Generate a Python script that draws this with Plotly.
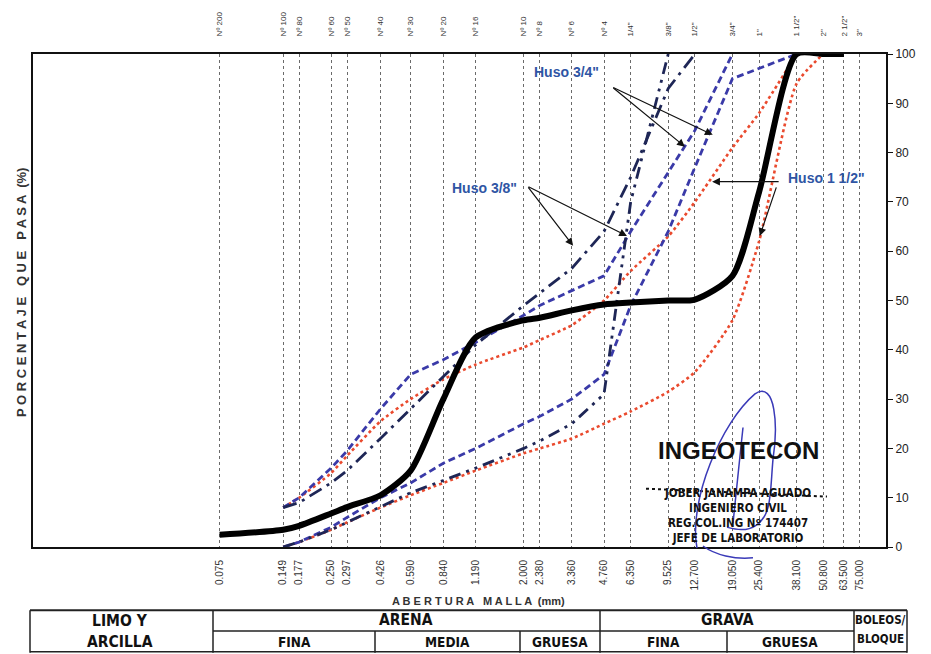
import math
import plotly.graph_objects as go

# ---------------- data ----------------
sieve_mm = [0.075, 0.149, 0.177, 0.250, 0.297, 0.426, 0.590, 0.840, 1.190, 2.000, 2.380,
            3.360, 4.760, 6.350, 9.525, 12.700, 19.050, 25.400, 38.100, 50.800, 63.500, 75.000]
sieve_names = ["Nº 200", "Nº 100", "Nº 80", "Nº 60", "Nº 50", "Nº 40", "Nº 30", "Nº 20", "Nº 16",
               "Nº 10", "Nº 8", "Nº 6", "Nº 4", '1/4"', '3/8"', '1/2"', '3/4"', '1"', '1 1/2"',
               '2"', '2 1/2"', '3"']
mm_labels = ["0.075", "0.149", "0.177", "0.250", "0.297", "0.426", "0.590", "0.840", "1.190",
             "2.000", "2.380", "3.360", "4.760", "6.350", "9.525", "12.700", "19.050", "25.400",
             "38.100", "50.800", "63.500", "75.000"]

# sample curve (thick black)
muestra_mm = [0.075, 0.149, 0.177, 0.250, 0.297, 0.426, 0.590, 0.840, 1.190, 2.000, 2.380,
              3.360, 4.760, 6.350, 9.525, 12.700, 19.050, 25.400, 38.100, 50.800, 63.500]
muestra_pct = [2.5, 3.5, 4.3, 6.8, 8.1, 10.5, 15.5, 30.0, 42.5, 46.0, 46.5,
               48.0, 49.2, 49.6, 50.0, 50.2, 55.0, 72.0, 100, 100, 100]

# Huso 3/8" (navy dash-dot)
h38_sup_mm = [0.149, 0.177, 0.250, 0.297, 0.426, 0.590, 0.840, 1.190, 2.000, 2.380, 3.360, 4.760, 6.350, 9.525, 12.700]
h38_sup_pct = [8, 9, 13, 15.5, 22, 28, 34.5, 41, 49, 51.5, 56.5, 64, 75, 93, 100]
h38_inf_mm = [0.149, 0.177, 0.250, 0.297, 0.426, 0.590, 0.840, 1.190, 2.000, 2.380, 3.360, 4.760, 6.350, 9.525]
h38_inf_pct = [0, 1, 3.5, 5, 8, 11, 13.5, 16, 20, 21.5, 25, 31, 70, 100]

# Huso 3/4" (blue dashed)
h34_sup_mm = [0.149, 0.177, 0.250, 0.297, 0.426, 0.590, 0.840, 1.190, 2.000, 2.380, 3.360, 4.760, 6.350, 9.525, 12.700, 19.050]
h34_sup_pct = [8, 10, 16, 19.5, 28, 35, 38, 41.5, 47, 49, 52, 55, 64, 76, 84.5, 100]
h34_inf_mm = [0.149, 0.177, 0.250, 0.297, 0.426, 0.590, 0.840, 1.190, 2.000, 2.380, 3.360, 4.760, 6.350, 9.525, 12.700, 19.050, 38.100]
h34_inf_pct = [0, 1, 4, 6, 10, 13, 17, 20, 25, 26.5, 30, 35, 49, 64, 77, 95, 100]

# Huso 1 1/2" (red dotted)
h112_sup_mm = [0.149, 0.177, 0.250, 0.297, 0.426, 0.590, 0.840, 1.190, 2.000, 2.380, 3.360, 4.760, 6.350, 9.525, 12.700, 19.050, 25.400, 38.100]
h112_sup_pct = [8, 10, 15, 18.5, 25.5, 30, 34, 37, 40.5, 42, 45, 50, 56, 63, 70, 81, 88, 100]
h112_inf_mm = [0.149, 0.177, 0.250, 0.297, 0.426, 0.590, 0.840, 1.190, 2.000, 2.380, 3.360, 4.760, 6.350, 9.525, 12.700, 19.050, 25.400, 38.100, 50.800]
h112_inf_pct = [0, 1, 3.5, 5, 8, 10.5, 13, 15.5, 19, 20, 22, 25, 27.5, 31.5, 35.5, 46, 62, 94, 100]

# arrow tips (mm, %) for the Huso labels
arrow_tip_mm = [15.4, 11.4, 3.41, 6.1, 15.3, 25.6]
arrow_tip_pct = [83.6, 81.2, 61.1, 63.1, 74.1, 63.1]
arrow_dx = [-101, -73, -46, -100, 68, 17]
arrow_dy = [-48, -60, -60, -50, 0, -50]

# ---------------- layout helpers ----------------
W, H = 931, 654
L, R, T, B = 33, 45, 48, 107
PW, PH = W - L - R, H - T - B


def px(x, y):
    return (x - L) / PW, (H - B - y) / PH


NAVY = "#1e2656"
BLUE = "#3a3aa8"
RED = "#ea4a2e"
LABEL = "#2f55a4"
NARROW = "DejaVu Sans Condensed, Liberation Sans Narrow, Liberation Sans"

fig = go.Figure()

fig.add_trace(go.Scatter(x=h112_sup_mm, y=h112_sup_pct, mode="lines",
                         line=dict(color=RED, width=2.6, dash="dot", shape="spline", smoothing=0.6)))
fig.add_trace(go.Scatter(x=h112_inf_mm, y=h112_inf_pct, mode="lines",
                         line=dict(color=RED, width=2.6, dash="dot", shape="spline", smoothing=0.6)))
fig.add_trace(go.Scatter(x=h34_sup_mm, y=h34_sup_pct, mode="lines",
                         line=dict(color=BLUE, width=2.8, dash="7px,4px")))
fig.add_trace(go.Scatter(x=h34_inf_mm, y=h34_inf_pct, mode="lines",
                         line=dict(color=BLUE, width=2.8, dash="7px,4px")))
fig.add_trace(go.Scatter(x=h38_sup_mm, y=h38_sup_pct, mode="lines",
                         line=dict(color=NAVY, width=2.8, dash="14px,6px,3px,6px")))
fig.add_trace(go.Scatter(x=h38_inf_mm, y=h38_inf_pct, mode="lines",
                         line=dict(color=NAVY, width=2.8, dash="12px,6px,3px,6px,3px,6px")))
fig.add_trace(go.Scatter(x=muestra_mm, y=muestra_pct, mode="lines",
                         line=dict(color="black", width=6, shape="spline", smoothing=0.7)))
# carrier trace for the top (sieve name) axis
fig.add_trace(go.Scatter(x=sieve_mm, y=[0] * len(sieve_mm), xaxis="x2", mode="lines",
                         opacity=0, hoverinfo="skip", line=dict(width=0)))

fig.update_layout(
    width=W, height=H, margin=dict(l=L, r=R, t=T, b=B),
    paper_bgcolor="white", plot_bgcolor="white", showlegend=False,
    font=dict(family="Liberation Sans, Arial, sans-serif", color="#222"),
    xaxis=dict(type="log", range=[-2, 2], tickmode="array", tickvals=sieve_mm, ticktext=mm_labels,
               tickangle=-90, tickfont=dict(size=10, color="#333"), ticks="outside", ticklen=7,
               tickcolor="rgba(0,0,0,0)", showgrid=True, gridcolor="#6a6a6a", griddash="dot",
               gridwidth=1, showline=True, linecolor="#111", linewidth=2, mirror=True, zeroline=False),
    xaxis2=dict(type="log", range=[-2, 2], overlaying="x", side="top", anchor="y", tickmode="array",
                tickvals=sieve_mm, ticktext=sieve_names, tickangle=-90,
                tickfont=dict(size=8, color="#333"), ticks="outside", ticklen=15,
                tickcolor="rgba(0,0,0,0)", showgrid=False, showline=False, zeroline=False),
    yaxis=dict(range=[0, 100], side="right", tickmode="array", tickvals=list(range(0, 101, 10)),
               ticks="outside", ticklen=5, tickcolor="#111", tickfont=dict(size=12, color="#222"),
               showgrid=False, showline=True, linecolor="#111", linewidth=2, mirror=True, zeroline=False),
)

ann = []


def txt_ann(text, cx, cy, size, color="#111", family=None, angle=0):
    a, b = px(cx, cy)
    f = dict(size=size, color=color)
    if family:
        f["family"] = family
    ann.append(dict(x=a, y=b, xref="paper", yref="paper", xanchor="center", yanchor="middle",
                    showarrow=False, text=text, font=f, textangle=angle, align="center"))


# axis titles
txt_ann("<b>P O R C E N T A J E   Q U E   P A S A  (%)</b>", 21, 290, 13, color="#333", angle=-90)
txt_ann("<b>A B E R T U R A   M A L L A  (mm)</b>", 478, 602, 11, color="#333")

# Huso labels
for t, (cx, cy) in [('Huso 3/4"', (566, 66)), ('Huso 3/8"', (484, 184)), ('Huso 1 1/2"', (826, 174))]:
    txt_ann("<b>%s</b>" % t, cx, cy, 14, color=LABEL, family="Liberation Sans, Arial")
# arrows
for mm, pc, dx, dy in zip(arrow_tip_mm, arrow_tip_pct, arrow_dx, arrow_dy):
    ann.append(dict(x=math.log10(mm), y=pc, xref="x", yref="y", text="", showarrow=True,
                    arrowhead=2, arrowsize=1.3, arrowwidth=1.2, arrowcolor="#111", ax=dx, ay=dy))

# stamp
txt_ann("<b>INGEOTECON</b>", 738, 449, 24, family="Liberation Sans, Arial")
txt_ann("<b>JOBER JANAMPA AGUADO<br>INGENIERO CIVIL<br>REG.COL.ING Nº 174407<br>JEFE DE LABORATORIO</b>",
        737, 515, 11.5, family=NARROW)

# table texts
for t, (cx, cy), sz in [("LIMO Y", (120, 622), 15.5), ("ARCILLA", (120, 643), 15.5), ("ARENA", (406, 621), 15.5),
                        ("GRAVA", (727, 621), 15.5), ("BOLEOS/", (880, 621), 11.5), ("BLOQUE", (880, 640), 11.5),
                        ("FINA", (294, 643), 13.5), ("MEDIA", (447, 643), 13.5), ("GRUESA", (560, 643), 13.5),
                        ("FINA", (663, 643), 13.5), ("GRUESA", (790, 643), 13.5)]:
    txt_ann("<b>%s</b>" % t, cx, cy, sz, family=NARROW)
fig.update_layout(annotations=ann)

shapes = []


def pline(x0, y0, x1, y1, color="#222", width=1.5, dash="solid"):
    a0, b0 = px(x0, y0)
    a1, b1 = px(x1, y1)
    shapes.append(dict(type="line", xref="paper", yref="paper", x0=a0, y0=b0, x1=a1, y1=b1,
                       line=dict(color=color, width=width, dash=dash)))


# table grid
pline(30, 611, 907, 611, width=2)
pline(213, 632, 854, 632)
pline(30, 653, 907, 653)
for xv in [30, 213, 600, 854, 907]:
    pline(xv, 611, xv, 654)
for xv in [375, 520, 727]:
    pline(xv, 632, xv, 654)

# stamp dotted rule
pline(646, 488, 827, 496, color="#111", width=2, dash="dot")


def path(pts_cmd):
    out = []
    for item in pts_cmd:
        if isinstance(item, str):
            out.append(item)
        else:
            a, b = px(*item)
            out.append("%.5f,%.5f" % (a, b))
    return " ".join(out)


sig = path(["M", (697, 548), "C", (688, 500), (722, 420), (755, 392), "C", (776, 378), (778, 425), (773, 458),
            "C", (770, 492), (772, 515), (756, 525), "C", (746, 532), (735, 529), (727, 527),
            "M", (743, 426), "L", (741, 445), "L", (733, 523),
            "M", (703, 546), "C", (715, 555), (735, 560), (753, 558)])
shapes.append(dict(type="path", xref="paper", yref="paper", path=sig, line=dict(color="#3a3ab8", width=1.5)))
fig.update_layout(shapes=shapes)

fig.write_html("out.html")
